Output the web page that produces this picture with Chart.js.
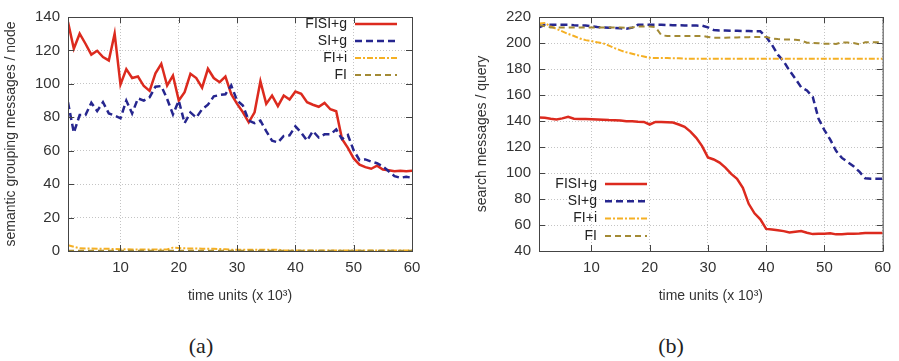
<!DOCTYPE html>
<html lang="en">
<head>
    <meta charset="UTF-8" />
    <title>semantic grouping / search messages</title>
    <style>
        body {
            margin: 0;
            padding: 0;
            background: #fff;
            width: 899px;
            height: 361px;
            position: relative;
            overflow: hidden;
        }

        .box {
            position: absolute;
            top: 0;
            height: 310px;
        }

        .caption {
            position: absolute;
            top: 333px;
            font-family: "Liberation Serif", "DejaVu Serif", serif;
            font-size: 22px;
            line-height: 26px;
            color: #222;
            transform: translateX(-50%);
        }
    </style>
    <script src="https://cdn.jsdelivr.net/npm/chart.js"></script>
</head>
<body>
    <div class="box" style="left:0;width:450px"><canvas id="chartA"></canvas></div>
    <div class="box" style="left:450px;width:449px"><canvas id="chartB"></canvas></div>
    <div class="caption" style="left:201px">(a)</div>
    <div class="caption" style="left:671px">(b)</div>

    <script>
    // time axis (x 10^3)
    const timeUnits = [1, 2, 3, 4, 5, 6, 7, 8, 9, 10, 11, 12, 13, 14, 15, 16, 17, 18, 19, 20,
      21, 22, 23, 24, 25, 26, 27, 28, 29, 30, 31, 32, 33, 34, 35, 36, 37, 38, 39, 40,
      41, 42, 43, 44, 45, 46, 47, 48, 49, 50, 51, 52, 53, 54, 55, 56, 57, 58, 59, 60];
    const xTicks = [10, 20, 30, 40, 50, 60];
    const yTicksA = [0, 20, 40, 60, 80, 100, 120, 140];
    const yTicksB = [40, 60, 80, 100, 120, 140, 160, 180, 200, 220];
    const seriesNames = ['FISI+g', 'SI+g', 'FI+i', 'FI'];

    // (a) semantic grouping messages / node
    const groupFISIg = [137, 121, 130, 124, 117.5, 119.8, 116, 114, 130, 99.6,
      108.8, 103.5, 104.4, 98.7, 95.8, 106.3, 112, 99, 105, 90,
      95, 106, 103.5, 97.7, 109, 103.5, 101, 104.4, 93.8, 88,
      83, 77, 83, 101.5, 88, 93, 86.7, 93, 90.6, 95.4,
      94, 89, 87.5, 86.3, 88.6, 84.8, 83.6, 67, 61.7, 55.4,
      51.7, 50.2, 49.2, 51, 48.7, 48.3, 47.7, 48, 47.7, 48];
    const groupSIg = [89, 70.8, 81.3, 81.3, 88.7, 83.7, 89, 82.3, 81, 79.4,
      90, 82.3, 91.3, 90, 92, 98.3, 98.7, 91, 81.7, 90,
      76.5, 82.9, 79.8, 84.8, 87.5, 92.5, 93.3, 93.8, 99, 90,
      87, 78, 76.5, 78, 71.7, 66, 65, 68.8, 69.2, 74.6,
      70.8, 66, 71.7, 67.9, 69.8, 69.8, 72.7, 67, 69.4, 60.2,
      54.4, 54.8, 53.5, 52.5, 50.6, 47.7, 44.8, 43.8, 44.4, 43.8];
    const groupFIi = [3.5, 2.5, 1.6, 1.5, 1.5, 1.4, 1.4, 1.3, 1.2, 1.1,
      1.0, 0.9, 0.9, 0.9, 0.9, 0.9, 0.9, 0.9, 2.0, 1.8,
      1.6, 1.5, 1.5, 1.4, 1.4, 1.3, 1.2, 1.0, 0.8, 0.8,
      0.8, 0.8, 0.8, 0.8, 0.8, 0.8, 0.8, 0.3, 0.3, 0.3,
      0.3, 0.3, 0.3, 0.3, 0.3, 0.3, 0.3, 0.3, 0.3, 0.3,
      0.3, 0.3, 0.3, 0.3, 0.3, 0.3, 0.3, 0.3, 0.3, 0.3];
    const groupFI = [0.2, 0.2, 0.2, 0.2, 0.2, 0.2, 0.2, 0.2, 0.2, 0.2,
      0.2, 0.2, 0.2, 0.2, 0.2, 0.2, 0.2, 0.2, 0.2, 0.2,
      0.2, 0.2, 0.2, 0.2, 0.2, 0.2, 0.2, 0.2, 0.2, 0.2,
      0.2, 0.2, 0.2, 0.2, 0.2, 0.2, 0.2, 0.2, 0.2, 0.2,
      0.2, 0.2, 0.2, 0.2, 0.2, 0.2, 0.2, 0.2, 0.2, 0.2,
      0.2, 0.2, 0.2, 0.2, 0.2, 0.2, 0.2, 0.2, 0.2, 0.2];

    // (b) search messages / query
    const searchFISIg = [142.7, 142.5, 141.7, 141.2, 142, 143.2, 141.7, 141.5, 141.5, 141.4,
      141.2, 141, 140.7, 140.5, 140.3, 139.8, 139.9, 139.5, 139.3, 137.3,
      139.3, 139.2, 139, 138.8, 137.3, 135.5, 131.8, 127, 120.7, 112,
      110.4, 108, 104.2, 99.3, 95.6, 88.6, 76.3, 69, 64.4, 57,
      56.5, 56, 55.3, 54.3, 54.8, 55.3, 54, 53, 53.3, 53.3,
      53.6, 52.8, 52.8, 53.3, 53.3, 53.5, 53.8, 53.8, 53.8, 53.8];
    const searchSIg = [212, 214, 214, 214, 214, 214, 213.7, 213.5, 213.5, 212.8,
      212.3, 212, 211.8, 211.5, 211.3, 211, 211.8, 214, 214, 214,
      214, 214, 213.8, 213.7, 213.6, 213.5, 213.5, 213.4, 213.3, 212,
      210, 209.6, 209.6, 209.5, 209.4, 209.3, 209.2, 209, 209, 204.7,
      198.5, 191, 186, 178.8, 172.6, 166, 163.5, 158.5, 141.7, 133,
      125.7, 117, 111.6, 108.4, 105.2, 101, 96, 95.6, 95.6, 95.6];
    const searchFIi = [215, 215.3, 212.8, 210.9, 208.9, 207, 205.4, 203.5, 202.2, 201.5,
      200.5, 199.8, 198, 196, 194.3, 192.8, 191.8, 190.6, 189.6, 188.6,
      188.4, 188.4, 188.4, 188.3, 188.2, 187.9, 187.9, 187.9, 187.9, 187.9,
      187.9, 187.9, 187.9, 187.9, 187.9, 187.9, 187.9, 187.9, 187.9, 187.9,
      187.9, 187.9, 187.9, 187.9, 187.9, 187.9, 187.9, 187.9, 187.9, 187.9,
      187.9, 187.9, 187.9, 187.9, 187.9, 187.9, 187.9, 187.9, 187.9, 187.9];
    const searchFI = [214, 212.8, 212, 212, 212, 212, 212, 212, 212, 212,
      212, 212, 212, 212, 212, 211.7, 212, 212.6, 212.6, 212.6,
      212.2, 206, 205.4, 205.4, 205.4, 205.4, 205.4, 205.4, 205.4, 204.7,
      204, 204, 204, 204.2, 204.3, 204.4, 204.5, 204.6, 204.6, 204.7,
      203.5, 203, 202.7, 202.7, 202.5, 202, 200.2, 200, 199.8, 199.5,
      199.5, 199.3, 200.5, 200.3, 200, 199, 200.5, 200.5, 200.5, 200.5];

    const styles = [
      { color: '#dc2a1e', dash: [], width: 2.5 },
      { color: '#26268f', dash: [7, 4], width: 2.5 },
      { color: '#f5b024', dash: [6, 2, 2, 2], width: 2 },
      { color: '#a38a35', dash: [6, 4], width: 2 }
    ];
    const FONT = "'Liberation Sans', Arial, sans-serif";

    // later series drawn on top, like gnuplot
    function makeDatasets(seriesList) {
      return seriesList.map((vals, i) => ({
        label: seriesNames[i],
        data: timeUnits.map((t, k) => ({ x: t, y: vals[k] })),
        order: seriesList.length - i,
        borderColor: styles[i].color,
        borderDash: styles[i].dash,
        borderWidth: styles[i].width,
        pointRadius: 0,
        tension: 0,
        fill: false
      }));
    }

    // frame box, inward tick marks (gnuplot style) and right-aligned key
    const gnuFrame = {
      id: 'gnuFrame',
      afterDatasetsDraw(chart) {
        const { ctx, chartArea: a, scales } = chart;
        ctx.save();
        ctx.strokeStyle = '#444';
        ctx.lineWidth = 1;
        ctx.setLineDash([]);
        ctx.strokeRect(a.left + 0.5, a.top + 0.5, a.right - a.left, a.bottom - a.top);
        ctx.beginPath();
        scales.y.ticks.forEach(t => {
          const y = Math.round(scales.y.getPixelForValue(t.value)) + 0.5;
          ctx.moveTo(a.left, y); ctx.lineTo(a.left + 6, y);
          ctx.moveTo(a.right, y); ctx.lineTo(a.right - 6, y);
        });
        scales.x.ticks.forEach(t => {
          const x = Math.round(scales.x.getPixelForValue(t.value)) + 0.5;
          ctx.moveTo(x, a.bottom); ctx.lineTo(x, a.bottom - 6);
          ctx.moveTo(x, a.top); ctx.lineTo(x, a.top + 6);
        });
        ctx.stroke();

        const key = chart.options.plugins.gnuKey;
        ctx.font = '14px ' + FONT;
        ctx.textAlign = 'right';
        ctx.textBaseline = 'middle';
        chart.data.datasets.forEach((ds, i) => {
          const y = key.y + i * key.step;
          ctx.fillStyle = '#222';
          ctx.fillText(ds.label, key.x, y);
          ctx.beginPath();
          ctx.strokeStyle = ds.borderColor;
          ctx.lineWidth = ds.borderWidth;
          ctx.setLineDash(ds.borderDash);
          ctx.moveTo(key.x + 8, y);
          ctx.lineTo(key.x + 50, y);
          ctx.stroke();
        });
        ctx.restore();
      }
    };

    function makeOptions(yMin, yMax, yTicks, yTitle, yWidth, padRight, yTitlePad, key) {
      return {
        responsive: true,
        maintainAspectRatio: false,
        animation: false,
        layout: { padding: { left: 0, right: padRight, top: 8, bottom: 0 } },
        plugins: { legend: { display: false }, tooltip: { enabled: false }, gnuKey: key },
        scales: {
          x: {
            type: 'linear',
            min: 1,
            max: 60,
            afterBuildTicks: s => { s.ticks = xTicks.map(v => ({ value: v })); },
            afterFit: s => { s.height = 59; },
            grid: { color: '#c4c4c4', lineWidth: 1, drawTicks: false },
            border: { display: false, dash: [1, 2] },
            ticks: { padding: 8, color: '#333', font: { family: FONT, size: 15 } },
            title: {
              display: true,
              text: 'time units (x 10\u00b3)',
              color: '#333',
              font: { family: FONT, size: 14 },
              padding: { top: 0, bottom: 5 }
            }
          },
          y: {
            min: yMin,
            max: yMax,
            afterBuildTicks: s => { s.ticks = yTicks.map(v => ({ value: v })); },
            afterFit: s => { s.width = yWidth; },
            grid: { color: '#c4c4c4', lineWidth: 1, drawTicks: false },
            border: { display: false, dash: [1, 2] },
            ticks: { padding: 8, color: '#333', font: { family: FONT, size: 15 } },
            title: {
              display: true,
              text: yTitle,
              color: '#333',
              font: { family: FONT, size: 14 },
              padding: { top: yTitlePad, bottom: 0 }
            }
          }
        }
      };
    }

    new Chart(document.getElementById('chartA'), {
      type: 'line',
      data: { datasets: makeDatasets([groupFISIg, groupSIg, groupFIi, groupFI]) },
      options: makeOptions(0, 140, yTicksA, 'semantic grouping messages / node', 68, 38, 3,
        { x: 347, y: 24, step: 17 }),
      plugins: [gnuFrame]
    });

    new Chart(document.getElementById('chartB'), {
      type: 'line',
      data: { datasets: makeDatasets([searchFISIg, searchSIg, searchFIi, searchFI]) },
      options: makeOptions(40, 220, yTicksB, 'search messages / query', 89, 16, 24,
        { x: 147, y: 184, step: 17.3 }),
      plugins: [gnuFrame]
    });
    </script>
</body>
</html>
